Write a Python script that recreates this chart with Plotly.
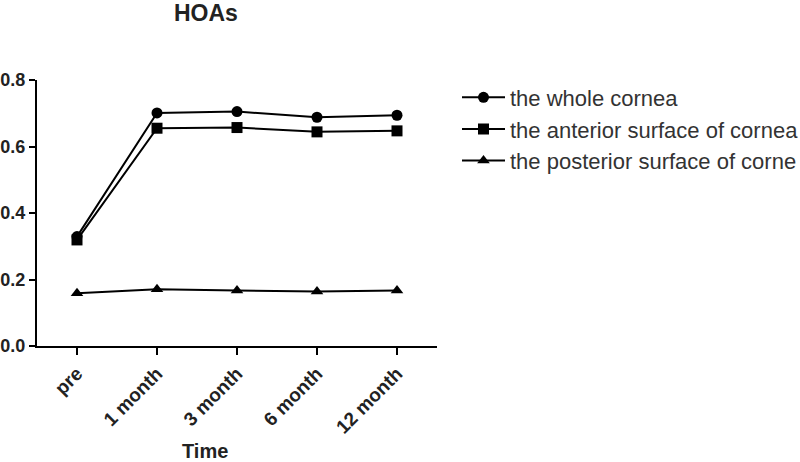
import plotly.graph_objects as go

categories = ["pre", "1 month", "3 month", "6 month", "12 month"]
whole_cornea = [0.329, 0.701, 0.705, 0.688, 0.694]
anterior_surface = [0.319, 0.655, 0.657, 0.644, 0.647]
posterior_surface = [0.159, 0.171, 0.167, 0.164, 0.167]
y_ticks = [0.0, 0.2, 0.4, 0.6, 0.8]

FONT = "Arial, Liberation Sans, sans-serif"

series = [
    ("the whole cornea", whole_cornea, "circle"),
    ("the anterior surface of cornea", anterior_surface, "square"),
    ("the posterior surface of corne", posterior_surface, "triangle-up"),
]

fig = go.Figure()
for name, vals, sym in series:
    fig.add_trace(go.Scatter(
        x=categories, y=vals, name=name, mode="lines+markers",
        line=dict(color="black", width=2),
        marker=dict(symbol=sym, size=11, color="black"),
    ))

fig.update_layout(
    width=800, height=462,
    margin=dict(l=37, r=363, t=80, b=116, autoexpand=False),
    paper_bgcolor="white", plot_bgcolor="white",
    font=dict(family=FONT, color="#222222"),
    showlegend=True,
    legend=dict(
        x=1.05, y=1.013, xanchor="left", yanchor="top",
        itemwidth=43,
        font=dict(family=FONT, size=22, color="#333333"),
        bgcolor="rgba(0,0,0,0)",
    ),
    annotations=[
        dict(text="<b>HOAs</b>", x=0.4225, y=1.252, xref="paper", yref="paper",
             showarrow=False, xanchor="center", yanchor="middle",
             font=dict(family=FONT, size=23, color="#222222")),
        dict(text="<b>Time</b>", x=0.42, y=-0.395, xref="paper", yref="paper",
             showarrow=False, xanchor="center", yanchor="middle",
             font=dict(family=FONT, size=20, color="#222222")),
    ],
)

fig.update_xaxes(
    type="category", range=[-0.5, 4.5],
    showline=True, linecolor="black", linewidth=2,
    ticks="outside", ticklen=7, tickwidth=2, tickcolor="black",
    tickangle=-45, showgrid=False, zeroline=False,
    tickfont=dict(family=FONT, size=19, color="#222222"),
    ticktext=["<b>%s</b>" % c for c in categories], tickvals=categories,
)
fig.update_yaxes(
    range=[0, 0.8], tickvals=y_ticks,
    ticktext=["<b>%.1f</b>" % v for v in y_ticks],
    showline=True, linecolor="black", linewidth=2,
    ticks="outside", ticklen=6, tickwidth=2, tickcolor="black",
    showgrid=False, zeroline=False,
    tickfont=dict(family=FONT, size=18, color="#222222"),
)

fig.write_html("out.html", config={"displayModeBar": False},
               post_script="document.body.style.margin='0';document.body.style.overflow='hidden';")
